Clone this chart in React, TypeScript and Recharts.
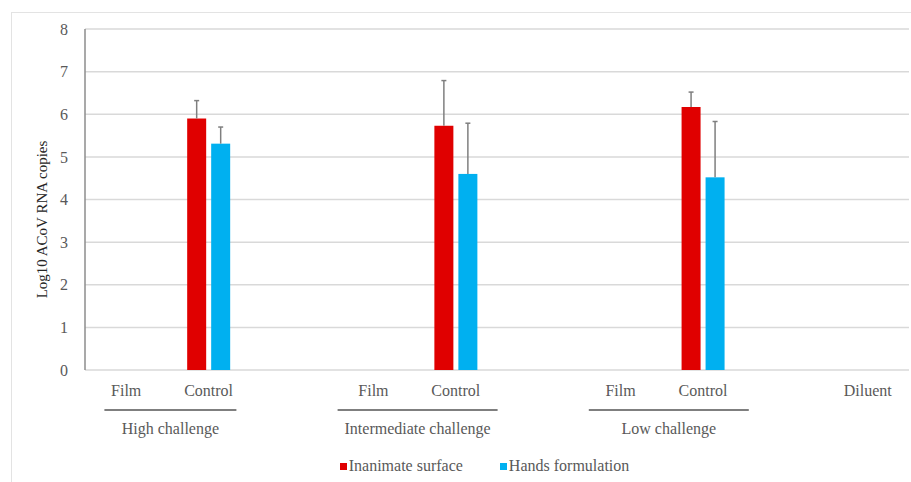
import React from "react";
import {
  BarChart,
  Bar,
  XAxis,
  YAxis,
  CartesianGrid,
  Legend,
} from "recharts";

// categories along the x axis (blank slots separate the challenge groups)
const categories = ["Film", "Control", "", "Film", "Control", "", "Film", "Control", "", "Diluent"];
const groups = [
  "High challenge",
  "High challenge",
  "",
  "Intermediate challenge",
  "Intermediate challenge",
  "",
  "Low challenge",
  "Low challenge",
  "",
  "",
];
const inanimate = [null, 5.9, null, null, 5.73, null, null, 6.17, null, null];
const inanimateErr = [0, 0.42, 0, 0, 1.06, 0, 0, 0.35, 0, 0];
const hands = [null, 5.31, null, null, 4.6, null, null, 4.52, null, null];
const handsErr = [0, 0.39, 0, 0, 1.19, 0, 0, 1.31, 0, 0];
const yTicks = [0, 1, 2, 3, 4, 5, 6, 7, 8];

const data = categories.map((name, i) => ({
  name,
  group: groups[i],
  inanimate: inanimate[i],
  inanimateErr: inanimateErr[i],
  hands: hands[i],
  handsErr: handsErr[i],
}));

const FONT = '"Liberation Serif", "Times New Roman", serif';
const TEXT = "#595959";
const RED = "#E00000";
const BLUE = "#00B0F0";

// group underline: half length + shift from the midpoint of the two categories
const groupLine: Record<string, { half: number; shift: number }> = {
  "High challenge": { half: 66, shift: 3 },
  "Intermediate challenge": { half: 80, shift: 3 },
  "Low challenge": { half: 80, shift: 7 },
};

const CategoryTick = (props: any) => {
  const { x, y, payload, index } = props;
  const g = groups[index];
  const start = g && groups[index - 1] !== g;
  const off = payload.offset ?? 41;
  const gl = groupLine[g];
  return (
    <g>
      <text x={x} y={y + 26} textAnchor="middle" fontSize={16} fontFamily={FONT} fill={TEXT}>
        {payload.value}
      </text>
      {start && gl && (
        <g>
          <line
            x1={x + off + gl.shift - gl.half}
            x2={x + off + gl.shift + gl.half}
            y1={y + 40}
            y2={y + 40}
            stroke="#7f7f7f"
            strokeWidth={1.8}
          />
          <text
            x={x + off + gl.shift}
            y={y + 64}
            textAnchor="middle"
            fontSize={16}
            fontFamily={FONT}
            fill={TEXT}
          >
            {g}
          </text>
        </g>
      )}
    </g>
  );
};

// bar with an upper-only error whisker, scaled from the bar's own pixel height
const makeShape = (key: string, errKey: string) => (props: any) => {
  const { x, y, width, height, fill, payload } = props;
  const val = payload[key];
  if (!val || !height) return <g />;
  const errPx = (payload[errKey] / val) * height;
  const cx = x + width / 2;
  return (
    <g>
      <rect x={x} y={y} width={width} height={height} fill={fill} />
      <line x1={cx} x2={cx} y1={y} y2={y - errPx} stroke="#7f7f7f" strokeWidth={1.5} />
      <line x1={cx - 2.5} x2={cx + 2.5} y1={y - errPx} y2={y - errPx} stroke="#7f7f7f" strokeWidth={1.5} />
    </g>
  );
};

const renderLegend = () => (
  <div
    style={{
      display: "flex",
      justifyContent: "center",
      alignItems: "center",
      paddingLeft: 60,
      fontFamily: FONT,
      fontSize: 16,
      color: TEXT,
      height: 22,
    }}
  >
    {[
      { label: "Inanimate surface", color: RED },
      { label: "Hands formulation", color: BLUE },
    ].map((it, i) => (
      <div key={it.label} style={{ display: "flex", alignItems: "center", marginLeft: i ? 37 : 0 }}>
        <span style={{ width: 7, height: 7, background: it.color, marginRight: 2, display: "inline-block" }} />
        <span>{it.label}</span>
      </div>
    ))}
  </div>
);

const YLabel = (props: any) => {
  const vb = props.viewBox;
  const cx = vb.x + 42;
  const cy = vb.y + vb.height / 2 + 20;
  return (
    <text
      x={cx}
      y={cy}
      transform={`rotate(-90, ${cx}, ${cy})`}
      textAnchor="middle"
      dominantBaseline="central"
      fontSize={15}
      fontFamily={FONT}
      fill="#262626"
    >
      Log10 ACoV RNA copies
    </text>
  );
};

export default function App() {
  return (
    <div style={{ position: "absolute", left: 0, top: 0, width: 911, height: 482, background: "#fff", overflow: "hidden" }}>
      <div
        style={{
          position: "absolute",
          left: 11,
          top: 12,
          width: 940,
          height: 520,
          border: "1px solid #e3e3e3",
        }}
      />
      <div style={{ position: "absolute", left: 0, top: 0 }}>
        <BarChart
          width={911}
          height={482}
          data={data}
          margin={{ top: 29, right: 2, bottom: 5, left: 0 }}
          barCategoryGap="24%"
          barGap={5}
        >
          <CartesianGrid vertical={false} stroke="#d9d9d9" strokeWidth={1.5} />
          <XAxis
            dataKey="name"
            interval={0}
            height={85}
            tickLine={false}
            axisLine={false}
            tickSize={0}
            tickMargin={0}
            tick={<CategoryTick />}
          />
          <XAxis xAxisId="top" orientation="top" dataKey="name" height={0} tick={false} tickLine={false} axisLine={{ stroke: "#8c8c8c", strokeWidth: 1.5 }} />
          <YAxis
            domain={[0, 8]}
            ticks={yTicks}
            width={85}
            tickLine={false}
            tickSize={0}
            tickMargin={17}
            axisLine={{ stroke: "#8c8c8c", strokeWidth: 1.5 }}
            tick={{ fontSize: 16, fontFamily: FONT, fill: TEXT }}
            label={<YLabel />}
          />
          <YAxis yAxisId="right" orientation="right" domain={[0, 8]} width={0} tick={false} tickLine={false} axisLine={{ stroke: "#8c8c8c", strokeWidth: 1.5 }} />
          <Legend verticalAlign="bottom" height={22} content={renderLegend} />
          <Bar dataKey="inanimate" fill={RED} isAnimationActive={false} shape={makeShape("inanimate", "inanimateErr")} />
          <Bar dataKey="hands" fill={BLUE} isAnimationActive={false} shape={makeShape("hands", "handsErr")} />
        </BarChart>
      </div>
    </div>
  );
}
